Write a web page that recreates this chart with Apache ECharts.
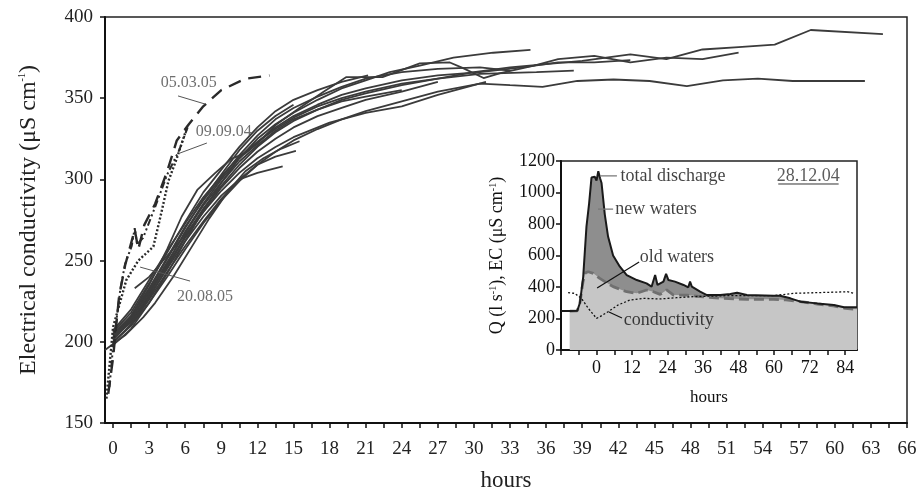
<!DOCTYPE html>
<html>
<head>
<meta charset="utf-8">
<script src="https://cdn.jsdelivr.net/npm/echarts@6/dist/echarts.min.js"></script>
<style>
html,body{margin:0;padding:0;background:#fff;}
#ChartMain{width:922px;height:495px;}
</style>
</head>
<body>
<div id="ChartMain"></div>
<script>
var fontFam = 'Liberation Serif';

// main chart axis ticks / labels (hours)
var mainHourTicks = [0,1.5,3,4.5,6,7.5,9,10.5,12,13.5,15,16.5,18,19.5,21,22.5,24,25.5,27,28.5,30,31.5,33,34.5,36,37.5,39,40.5,42,43.5,45,46.5,48,49.5,51,52.5,54,55.5,57,58.5,60,61.5,63,64.5,66];
var mainHourLabels = [0,3,6,9,12,15,18,21,24,27,30,33,36,39,42,45,48,51,54,57,60,63,66];

// EC curves [hours, uS/cm] - solid runs
var run1 = [[0,203],[1.5,212],[3,228],[4.5,245],[6,262],[7.5,277],[9,290],[10.5,300],[12,304],[14.1,308]];
var run2 = [[0,200],[1.5,210],[3,226],[4.5,243],[6,259],[7.5,274],[9,288],[10.5,300],[12,309],[13.5,314],[15.2,317.5]];
var run3 = [[-0.67,195],[1,204],[2.5,215],[3.5,224],[5,240],[6.5,258],[8,276],[9.5,292],[11,305],[12.5,313],[14,319],[15.5,323.5]];
var run4 = [[0,202],[1.5,214],[3,232],[4.5,251],[6,270],[7.5,288],[9,303],[10.5,318],[12,330],[13.5,339],[15,346]];
var run5 = [[0,205],[1.5,216],[3,235],[4.5,257],[5.7,277],[7,293.5],[8.5,304],[9.9,313],[11,316],[12,322],[13.6,334],[15.5,344],[17.5,354],[19.4,363],[22.4,363],[25.5,371.5],[28,372],[29.1,368.5],[30.8,362.4],[32.2,365.5],[35,370],[37,374],[40,376],[43,372],[46,375],[49,374],[52,378]];
var run6 = [[0,198],[1.5,208],[3,224],[4.5,242],[6,262],[7.5,281],[9,298],[10.5,313],[12,325],[13.5,334],[15,341],[17,349],[19,356],[21,361],[23,366],[25.5,370],[28.3,375],[31.6,378],[34.7,379.7]];
var run7 = [[0,204],[1.5,215],[3,230],[4.5,247],[6,265],[7.5,282],[9,296],[10.5,309],[12,320],[13.5,329],[15,336],[17,343],[19,349],[21,353],[24,358],[27,362],[30,366],[33,369],[36,371],[39,373],[43,377],[46,374],[49,380],[52,381.5],[55,383],[58,392],[64,389.5]];
var run8 = [[0,200],[1.5,210],[3,224],[4.5,240],[6,257],[7.5,273],[9,287],[10.5,299],[12,309],[13.5,317],[15,324],[17,331],[19,337],[21,342],[24,348],[27,354],[30.5,359],[33,358],[35.7,357],[38.6,360.6],[41.6,361.5],[44.6,360.6],[47.7,357.5],[50.7,361],[53.6,362],[56.5,360.6],[62.5,360.6]];
var run9 = [[0,207],[1.5,220],[3,238],[4.5,256],[6,273],[7.5,289],[9,302],[10.5,314],[12,323],[13.5,331],[15,338],[17,345],[19,350],[21,354],[24,359],[27,362],[30.5,365],[35.2,366],[38.3,367]];
var run10 = [[0,201],[1.5,213],[3,229],[4.5,248],[6,268],[7.5,285],[9,300],[10.5,313],[12,323],[13.5,332],[15,339],[17,346],[19,352],[21,356],[24,361],[27,364],[30.5,366],[34,369],[37,372],[40,372],[43,373.5]];
var run11 = [[0,203],[1.5,216],[3,233],[4.5,252],[6,271],[7.5,287],[9,301],[10.5,315],[12,327],[13.5,337],[15,344],[17,351],[19,357],[21,362],[24,366],[27,368],[30.5,369],[33,367]];
var run12 = [[1.8,233],[3,240],[4.5,253],[6,266],[7.5,280],[9,293],[10.5,304],[12,313],[13.5,320],[15,326],[18,335],[21,341],[24,345],[27,352],[31,360]];
var run13 = [[0,206],[1.5,218],[3,236],[4.5,255],[6,274],[7.5,292],[9,306],[10.5,320],[12,332],[13.5,342],[15,349],[17,355],[19,360],[21.2,364]];
var run14 = [[0,199],[1.5,211],[3,227],[4.5,246],[6,264],[7.5,280],[9,295],[10.5,307],[12,317],[13.5,325],[15,332],[17,339],[19,344],[21,349],[24,354],[27,360]];
var run15 = [[0,204],[1.5,214],[3,231],[4.5,249],[6,267],[7.5,284],[9,298],[10.5,311],[12,321],[13.5,330],[15,337],[17,343],[19,348],[21,351],[24,355]];
var solidRuns = [run1,run2,run3,run4,run5,run6,run7,run8,run9,run10,run11,run12,run13,run14,run15];

// highlighted events
var run050305 = [[-0.4,168],[0,190],[0.5,228],[1,247],[1.8,269],[2.1,257],[2.6,272],[3.5,285],[4.5,305],[5.3,324],[6.3,334],[7.5,345],[9,355],[11,362],[13,364]];
var run090904 = [[-0.3,172],[0,197],[0.6,232],[1,248],[1.55,259],[1.8,270],[2,260],[2.5,264],[3.6,285],[4.5,303],[5.5,318],[6.2,332]];
var run200805 = [[-0.55,165],[0,209],[1.1,238],[2.1,250],[3.35,258.6],[4,279],[4.6,299],[5.3,313],[6.1,331]];

var mainNotes = [['05.03.05',6.3,359.4],['09.09.04',9.2,329.2],['20.08.05',7.65,228]];
var mainLeaders = [[[5.4,351.4],[7.65,346.4]],[[7.8,322.4],[5.55,316.2]],[[6.4,237.4],[2.25,246]]];

// inset 28.12.04 : discharge (l/s) and EC
var insetHourTicks = [-12,-6,0,6,12,18,24,30,36,42,48,54,60,66,72,78,84];
var insetHourLabels = [0,12,24,36,48,60,72,84];
var insetTotal = [[-12,247],[-9,247],[-6.5,249],[-5.6,300],[-4.5,465],[-3.4,783],[-2.5,931],[-1.7,1095],[-0.6,1100],[0,1075],[0.6,1135],[1.2,1090],[1.7,1060],[2.8,860],[3.9,720],[5.6,600],[7.9,529],[10.2,476],[13.6,444],[16.9,423],[18.6,402],[19.8,476],[20.6,413],[22.6,434],[23.5,483],[24.3,444],[26.5,434],[29.4,413],[31,398],[31.6,434],[32.2,402],[35,370],[37.3,349],[41.8,349],[45.2,355],[47.5,364],[50.8,349],[59.9,345],[62,345],[65.5,328],[68.9,307],[74.6,296],[80.2,286],[83.6,271],[88,271]];
var insetOld = [[-9,247],[-6.5,249],[-5.6,300],[-4.6,430],[-3.8,490],[-2.8,497],[-1.1,487],[1.1,455],[5.6,402],[10.2,370],[13.6,360],[16.9,381],[19.2,370],[21.5,353],[23.7,381],[26,349],[30.5,349],[35,339],[41.8,328],[50.8,322],[59.9,322],[64,318],[68,310],[74.6,292],[80,280],[84,265],[88,258]];
var insetEC = [[-9.6,364],[-7.4,360],[-5.1,328],[-2.8,265],[0,201],[1.1,211],[3.9,243],[7.3,286],[11.3,317],[15.8,328],[21.5,324],[27.1,332],[32.7,339],[44,345],[59.9,345],[66.6,360],[78,366],[84.7,370],[87,360]];

var insetNotes = [['total discharge',7.9,1105],['new waters',6.2,895],['old waters',14.4,590],['conductivity',9.0,190]];
var insetLeaders = [[[1.2,1105],[6.9,1105]],[[0.5,895],[5.6,895]],[[14.4,559],[0.2,394]],[[8.6,203],[4.2,241]]];
var insetDate = ['28.12.04',71.5,1105];
var insetDateLine = [[61.4,1054],[81.8,1054]];

GenerateChart();

function GenerateChart() {
    var chart = echarts.init(document.getElementById('ChartMain'));
    var series = [];

    solidRuns.forEach(function (run) {
        series.push({type: 'line', xAxisIndex: 0, yAxisIndex: 0, data: run, symbol: 'none', silent: true,
            lineStyle: {color: '#3b3b3b', width: 1.8}});
    });
    series.push({type: 'line', xAxisIndex: 0, yAxisIndex: 0, data: run050305, symbol: 'none', silent: true,
        lineStyle: {color: '#2a2a2a', width: 2.4, type: [13, 8]}});
    series.push({type: 'line', xAxisIndex: 0, yAxisIndex: 0, data: run090904, symbol: 'none', silent: true,
        lineStyle: {color: '#2a2a2a', width: 2, type: [7, 3, 2, 3, 2, 3]}});
    series.push({type: 'line', xAxisIndex: 0, yAxisIndex: 0, data: run200805, symbol: 'none', silent: true,
        lineStyle: {color: '#2a2a2a', width: 2.4, type: [2, 2]}});

    mainLeaders.forEach(function (seg) {
        series.push({type: 'line', xAxisIndex: 0, yAxisIndex: 0, data: seg, symbol: 'none', silent: true,
            lineStyle: {color: '#555', width: 1}});
    });
    series.push({type: 'scatter', xAxisIndex: 0, yAxisIndex: 0, symbolSize: 1, silent: true, z: 6,
        itemStyle: {color: 'rgba(0,0,0,0)'},
        label: {show: true, position: 'inside', formatter: '{b}', fontFamily: fontFam, fontSize: 16, color: '#4a4a4a'},
        data: mainNotes.map(function (n) { return {name: n[0], value: [n[1], n[2]]}; })});

    // inset
    series.push({type: 'line', xAxisIndex: 1, yAxisIndex: 1, symbol: 'none', silent: true, z: 1,
        data: insetTotal.filter(function (p) { return p[0] >= -9; }),
        lineStyle: {width: 0}, areaStyle: {color: '#8e8e8e', opacity: 1}});
    series.push({type: 'line', xAxisIndex: 1, yAxisIndex: 1, symbol: 'none', silent: true, z: 1,
        data: insetOld, lineStyle: {width: 0}, areaStyle: {color: '#c6c6c6', opacity: 1}});
    series.push({type: 'line', xAxisIndex: 1, yAxisIndex: 1, symbol: 'none', silent: true,
        data: insetOld, lineStyle: {color: '#707070', width: 2.8, type: [10, 5]}});
    series.push({type: 'line', xAxisIndex: 1, yAxisIndex: 1, symbol: 'none', silent: true,
        data: insetEC, lineStyle: {color: '#111', width: 1.3, type: [2, 2]}});
    series.push({type: 'line', xAxisIndex: 1, yAxisIndex: 1, symbol: 'none', silent: true,
        data: insetTotal, lineStyle: {color: '#1a1a1a', width: 2}});

    insetLeaders.forEach(function (seg, i) {
        series.push({type: 'line', xAxisIndex: 1, yAxisIndex: 1, data: seg, symbol: 'none', silent: true, z: 4,
            lineStyle: {color: i < 2 ? '#777' : '#111', width: 1.2}});
    });
    series.push({type: 'line', xAxisIndex: 1, yAxisIndex: 1, data: insetDateLine, symbol: 'none', silent: true,
        lineStyle: {color: '#333', width: 1}});
    series.push({type: 'scatter', xAxisIndex: 1, yAxisIndex: 1, symbolSize: 1, silent: true, z: 6,
        itemStyle: {color: 'rgba(0,0,0,0)'},
        label: {show: true, position: 'right', distance: 0, formatter: '{b}', fontFamily: fontFam, fontSize: 18, color: '#111'},
        data: insetNotes.map(function (n) { return {name: n[0], value: [n[1], n[2]]}; })});
    series.push({type: 'scatter', xAxisIndex: 1, yAxisIndex: 1, symbolSize: 1, silent: true, z: 6,
        itemStyle: {color: 'rgba(0,0,0,0)'},
        label: {show: true, position: 'inside', formatter: '{b}', fontFamily: fontFam, fontSize: 18, color: '#333'},
        data: [{name: insetDate[0], value: [insetDate[1], insetDate[2]]}]});

    var xLine = {show: true, onZero: false, lineStyle: {color: '#111', width: 2}};
    var yLine = {show: true, onZero: false, lineStyle: {color: '#111', width: 2}};
    var supRich = {sup: {fontSize: 10, verticalAlign: 'top', fontFamily: fontFam, color: '#222'}};

    var option = {
        animation: false,
        grid: [
            {left: 105, top: 17, right: 15, bottom: 72, outerBoundsMode: 'none', show: true, borderColor: '#222', borderWidth: 1.5, backgroundColor: '#fff'},
            {left: 561, top: 161, right: 65, bottom: 145, outerBoundsMode: 'none', show: true, borderColor: '#222', borderWidth: 1.5, backgroundColor: '#fff'}
        ],
        xAxis: [
            {type: 'value', gridIndex: 0, min: -0.67, max: 66, splitLine: {show: false}, axisLine: xLine,
                axisTick: {show: true, length: 5, customValues: mainHourTicks, lineStyle: {color: '#111', width: 1.5}},
                axisLabel: {customValues: mainHourLabels, margin: 17, fontFamily: fontFam, fontSize: 19, color: '#222'},
                name: 'hours', nameLocation: 'middle', nameGap: 46,
                nameTextStyle: {fontFamily: fontFam, fontSize: 23, color: '#222'}},
            {type: 'value', gridIndex: 1, min: -12, max: 88, splitLine: {show: false}, axisLine: xLine,
                axisTick: {show: true, length: 5, customValues: insetHourTicks, lineStyle: {color: '#111', width: 1.5}},
                axisLabel: {customValues: insetHourLabels, margin: 9, fontFamily: fontFam, fontSize: 18, color: '#111'},
                name: 'hours', nameLocation: 'middle', nameGap: 39,
                nameTextStyle: {fontFamily: fontFam, fontSize: 17, color: '#111'}}
        ],
        yAxis: [
            {type: 'value', gridIndex: 0, min: 150, max: 400, interval: 50, splitLine: {show: false}, axisLine: yLine,
                axisTick: {show: true, length: 5, lineStyle: {color: '#111', width: 1.5}},
                axisLabel: {margin: 12, fontFamily: fontFam, fontSize: 19, color: '#222'},
                name: 'Electrical conductivity (μS cm{sup|-1})', nameLocation: 'middle', nameGap: 64,
                nameTextStyle: {fontFamily: fontFam, fontSize: 24, color: '#222', rich: supRich}},
            {type: 'value', gridIndex: 1, min: 0, max: 1200, interval: 200, splitLine: {show: false}, axisLine: yLine,
                axisTick: {show: true, length: 5, lineStyle: {color: '#111', width: 1.5}},
                axisLabel: {margin: 6, fontFamily: fontFam, fontSize: 18, color: '#111',
                    formatter: function (v) { return String(v); }},
                name: 'Q (l s{sup|-1}), EC (μS cm{sup|-1})', nameLocation: 'middle', nameGap: 55,
                nameTextStyle: {fontFamily: fontFam, fontSize: 18, color: '#111', rich: supRich}}
        ],
        series: series
    };
    chart.setOption(option);
}
</script>
</body>
</html>
